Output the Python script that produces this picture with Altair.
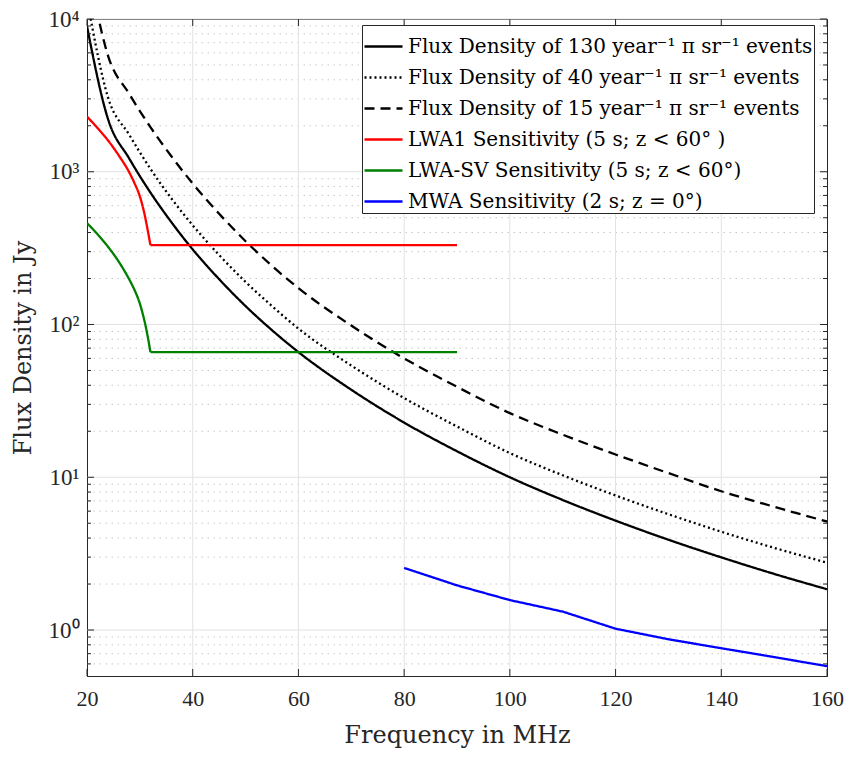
import altair as alt
import pandas as pd

# ---------------- data ----------------
freq_black = [20, 24, 28, 32, 36, 40, 45, 50, 55, 60, 70, 80, 90, 100, 110, 120, 130, 140, 150, 160]
flux_130 = [8950, 2200, 1219, 731, 466, 310, 198, 132, 91.8, 66, 37.4, 22.8, 14.8, 10.0, 7.10, 5.20, 3.90, 2.99, 2.33, 1.85]
flux_40 = [13500, 3050, 1745, 1045, 666, 446, 285, 190, 132, 94, 53.9, 33, 21.5, 14.4, 10.3, 7.6, 5.73, 4.4, 3.45, 2.76]
flux_15 = [24000, 5720, 3230, 1959, 1258, 837, 531, 351, 242, 173, 98.4, 60, 39.1, 26.3, 19.0, 14.1, 10.65, 8.1, 6.41, 5.13]

freq_lwa_curve = [20, 22, 24, 26, 28, 29, 30, 30.5, 31, 31.5, 32]
lwa1_curve = [2300, 1930, 1600, 1280, 990, 840, 690, 600, 505, 412, 331]
lwasv_curve = [461, 390, 322, 258, 197, 168, 137, 119, 101, 83, 66]
freq_lwa_flat = [32, 90]
lwa1_flat = [331, 331]
lwasv_flat = [66, 66]

freq_mwa = [80, 90, 100, 110, 120, 130, 140, 150, 160]
sens_mwa = [2.55, 1.96, 1.57, 1.32, 1.02, 0.87, 0.76, 0.665, 0.58]

series_names = [
    "Flux Density of 130 year⁻¹ π sr⁻¹ events",
    "Flux Density of 40 year⁻¹ π sr⁻¹ events",
    "Flux Density of 15 year⁻¹ π sr⁻¹ events",
    "LWA1 Sensitivity (5 s; z < 60° )",
    "LWA-SV Sensitivity (5 s; z < 60°)",
    "MWA Sensitivity (2 s; z = 0°)",
]
series_colors = ["#000000", "#000000", "#000000", "#ff0000", "#008000", "#0000ff"]
series_dashes = [[1, 0], [2, 3], [10, 6], [1, 0], [1, 0], [1, 0]]

x_ticks = [20, 40, 60, 80, 100, 120, 140, 160]
x_grid = [40, 60, 80, 100, 120, 140]
y_major = [1, 10, 100, 1000, 10000]
y_minor = [0.6, 0.7, 0.8, 0.9,
           2, 3, 4, 5, 6, 7, 8, 9,
           20, 30, 40, 50, 60, 70, 80, 90,
           200, 300, 400, 500, 600, 700, 800, 900,
           2000, 3000, 4000, 5000, 6000, 7000, 8000, 9000]

# ---------------- tables ----------------
rows = []
for f, a, b, c in zip(freq_black, flux_130, flux_40, flux_15):
    rows.append({"f": f, "v": a, "s": series_names[0]})
    rows.append({"f": f, "v": b, "s": series_names[1]})
    rows.append({"f": f, "v": c, "s": series_names[2]})
curves_black = pd.DataFrame(rows)

rows = []
for f, a, b in zip(freq_lwa_curve, lwa1_curve, lwasv_curve):
    rows.append({"f": f, "v": a, "s": series_names[3]})
    rows.append({"f": f, "v": b, "s": series_names[4]})
curves_lwa = pd.DataFrame(rows)

rows = []
for f, a, b in zip(freq_lwa_flat, lwa1_flat, lwasv_flat):
    rows.append({"f": f, "v": a, "s": series_names[3]})
    rows.append({"f": f, "v": b, "s": series_names[4]})
for f, a in zip(freq_mwa, sens_mwa):
    rows.append({"f": f, "v": a, "s": series_names[5]})
curves_lin = pd.DataFrame(rows)

W, H = 740, 657
FONT = "DejaVu Serif"
TFONT = "Liberation Serif"
AX = "#262626"
LW = 2.3

xs = alt.Scale(domain=[20, 160], nice=False, zero=False)
ys = alt.Scale(type="log", domain=[0.5, 10000], nice=False)

ylab = ("datum.value == 1 ? '10⁰' : datum.value == 10 ? '10¹' : datum.value == 100 ? '10²' : "
        "datum.value == 1000 ? '10³' : '10⁴'")

x_axis = alt.Axis(values=x_ticks, grid=False, ticks=False, tickSize=0, labelPadding=12,
                  labelFontSize=22, titleFontSize=24, titlePadding=14, labelFlush=False,
                  domainColor=AX, labelColor=AX, titleColor=AX, titleFontWeight="normal",
                  labelFont=TFONT, titleFont=FONT, title="Frequency in MHz")
y_axis = alt.Axis(values=y_major, grid=False, ticks=False, tickSize=0, labelPadding=8,
                  labelFontSize=23, titleFontSize=24, titlePadding=12, labelFlush=False,
                  domainColor=AX, labelColor=AX, titleColor=AX, titleFontWeight="normal",
                  labelFont=TFONT, titleFont=FONT, labelExpr=ylab, title="Flux Density in Jy")

X = alt.X("f:Q", scale=xs, axis=x_axis)
Y = alt.Y("v:Q", scale=ys, axis=y_axis)

minor_df = pd.DataFrame({"v": y_minor})
major_df = pd.DataFrame({"v": y_major})
xgrid_df = pd.DataFrame({"f": x_grid})
xtick_df = pd.DataFrame({"f": x_ticks})

g_minor = alt.Chart(minor_df).mark_rule(color="#c8c8c8", strokeDash=[1.5, 4.5], strokeWidth=1).encode(y=Y)
g_major = alt.Chart(major_df).mark_rule(color="#e2e2e2", strokeWidth=1).encode(y=Y)
g_x = alt.Chart(xgrid_df).mark_rule(color="#e2e2e2", strokeWidth=1).encode(x=X)

color = alt.Color("s:N", scale=alt.Scale(domain=series_names, range=series_colors),
                  legend=alt.Legend(title=None, orient="none", legendX=275, legendY=6,
                                    symbolType="stroke",
                                    symbolSize=1444, symbolStrokeWidth=LW, labelFont=FONT,
                                    labelFontSize=20, labelColor="#000000", labelLimit=0,
                                    rowPadding=-2.5, padding=1, strokeColor="#262626",
                                    fillColor="#ffffff", labelOffset=4, cornerRadius=0))
dash = alt.StrokeDash("s:N", scale=alt.Scale(domain=series_names, range=series_dashes), legend=None)

l_black = alt.Chart(curves_black).mark_line(strokeWidth=LW, clip=True, interpolate="monotone").encode(
    x=X, y=Y, color=color, strokeDash=dash, detail="s:N")
l_lwa = alt.Chart(curves_lwa).mark_line(strokeWidth=LW, clip=True, interpolate="monotone").encode(
    x=X, y=Y, color=color, strokeDash=dash, detail="s:N")
l_lin = alt.Chart(curves_lin).mark_line(strokeWidth=LW, clip=True).encode(
    x=X, y=Y, color=color, strokeDash=dash, detail="s:N")

# inward tick marks (box style)
t_xb = alt.Chart(xtick_df).mark_rule(color=AX).encode(x=X, y=alt.value(H - 7), y2=alt.value(H))
t_xt = alt.Chart(xtick_df).mark_rule(color=AX).encode(x=X, y=alt.value(0), y2=alt.value(7))
t_yl = alt.Chart(major_df).mark_rule(color=AX).encode(y=Y, x=alt.value(0), x2=alt.value(7))
t_yr = alt.Chart(major_df).mark_rule(color=AX).encode(y=Y, x=alt.value(W - 7), x2=alt.value(W))
t_ml = alt.Chart(minor_df).mark_rule(color=AX).encode(y=Y, x=alt.value(0), x2=alt.value(4))
t_mr = alt.Chart(minor_df).mark_rule(color=AX).encode(y=Y, x=alt.value(W - 4), x2=alt.value(W))

chart = alt.layer(g_minor, g_major, g_x, l_black, l_lwa, l_lin,
                  t_xb, t_xt, t_yl, t_yr, t_ml, t_mr).properties(
    width=W, height=H,
    autosize=alt.AutoSizeParams(type="none"),
    padding={"left": 79, "top": 11, "right": 17, "bottom": 77},
    background="#ffffff",
).configure_view(stroke=AX, strokeWidth=1).configure_legend(strokeWidth=1)

chart.save("out.html", embed_options={"renderer": "svg", "actions": False})
